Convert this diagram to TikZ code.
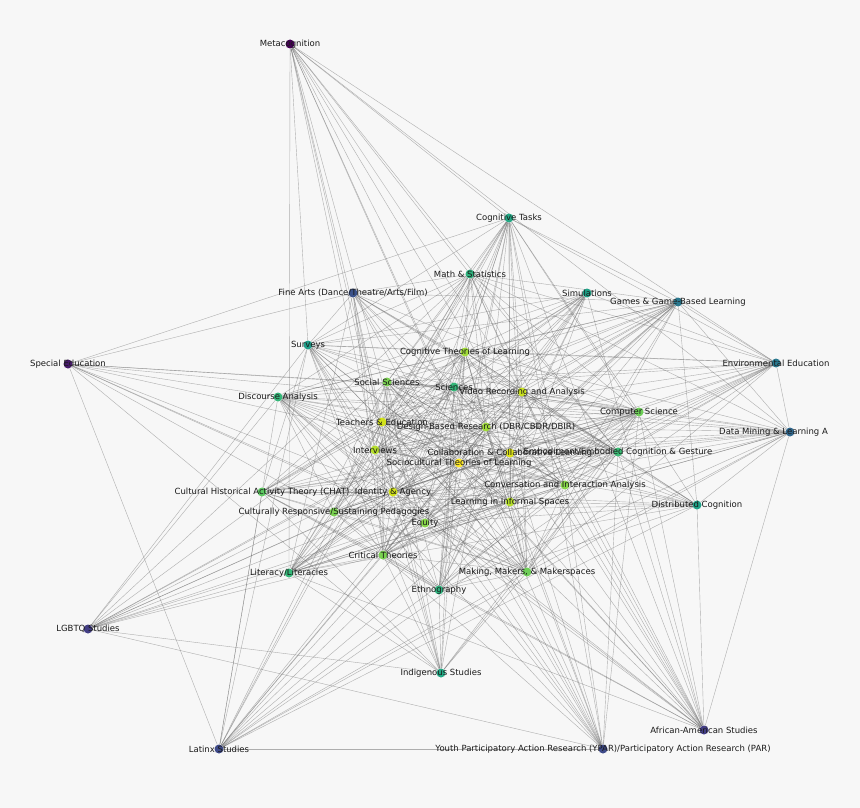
\documentclass[tikz,border=0pt]{standalone}
\usepackage{fontspec}
\setmainfont{DejaVu Sans}
\pgfdeclarelayer{bglayer}
\pgfdeclarelayer{edgelayer}
\pgfsetlayers{bglayer,edgelayer,main}
\definecolor{bgc}{HTML}{F7F7F7}
\definecolor{v00}{HTML}{440154}
\definecolor{v05}{HTML}{481A6C}
\definecolor{v12}{HTML}{433E85}
\definecolor{v15}{HTML}{3E4A89}
\definecolor{v20}{HTML}{3B528B}
\definecolor{v30}{HTML}{31688E}
\definecolor{v37}{HTML}{2A788E}
\definecolor{v55}{HTML}{1F9E89}
\definecolor{v58}{HTML}{1FA187}
\definecolor{v60}{HTML}{22A884}
\definecolor{v65}{HTML}{2DB27D}
\definecolor{v68}{HTML}{35B779}
\definecolor{v72}{HTML}{3BBB75}
\definecolor{v76}{HTML}{5EC962}
\definecolor{v79}{HTML}{6ECE58}
\definecolor{v82}{HTML}{7AD151}
\definecolor{v85}{HTML}{86D549}
\definecolor{v88}{HTML}{A0DA39}
\definecolor{v91}{HTML}{B5DE2B}
\definecolor{v93}{HTML}{C8E020}
\definecolor{v96}{HTML}{D2E21B}
\definecolor{v98}{HTML}{DDE318}
\definecolor{v100}{HTML}{FDE725}
\definecolor{txt}{HTML}{1A1A1A}
\definecolor{edgec}{HTML}{666666}
\tikzset{
  dot/.style={circle,inner sep=0pt,minimum size=9pt,fill=#1},
  lab/.style={inner sep=0pt,text=txt,font=\fontsize{8.5}{10}\selectfont},
  edge/.style={draw=edgec,line width=0.4pt,opacity=0.5}
}
\begin{document}
\begin{tikzpicture}[x=1pt,y=-1pt]
\begin{pgfonlayer}{bglayer}
\fill[bgc] (0,0) rectangle (860,808);
\end{pgfonlayer}
\useasboundingbox (0,0) rectangle (860,808);
% dots
\node[dot=v00] (n1) at (290,44) {};
\node[dot=v60] (n2) at (509,218) {};
\node[dot=v65] (n3) at (470,274) {};
\node[dot=v20] (n4) at (353,293) {};
\node[dot=v58] (n5) at (587,293) {};
\node[dot=v37] (n6) at (678,302) {};
\node[dot=v55] (n7) at (308,345) {};
\node[dot=v05] (n8) at (68,364) {};
\node[dot=v88] (n9) at (465,352) {};
\node[dot=v37] (n10) at (776,363) {};
\node[dot=v82] (n11) at (387,382) {};
\node[dot=v68] (n12) at (454,387) {};
\node[dot=v93] (n13) at (522,392) {};
\node[dot=v68] (n14) at (278,397) {};
\node[dot=v79] (n15) at (639,412) {};
\node[dot=v96] (n16) at (382,422) {};
\node[dot=v88] (n17) at (486,427) {};
\node[dot=v30] (n18) at (790,432) {};
\node[dot=v91] (n19) at (375,450) {};
\node[dot=v98] (n20) at (510,453) {};
\node[dot=v72] (n21) at (618,452) {};
\node[dot=v100] (n22) at (459,463) {};
\node[dot=v85] (n23) at (565,485) {};
\node[dot=v76] (n24) at (262,492) {};
\node[dot=v96] (n25) at (393,492) {};
\node[dot=v91] (n26) at (510,502) {};
\node[dot=v58] (n27) at (697,505) {};
\node[dot=v82] (n28) at (334,512) {};
\node[dot=v85] (n29) at (425,523) {};
\node[dot=v82] (n30) at (383,555) {};
\node[dot=v68] (n31) at (289,573) {};
\node[dot=v79] (n32) at (527,572) {};
\node[dot=v65] (n33) at (439,590) {};
\node[dot=v12] (n34) at (88,629) {};
\node[dot=v60] (n35) at (441,673) {};
\node[dot=v15] (n36) at (219,749) {};
\node[dot=v12] (n37) at (704,730) {};
\node[dot=v15] (n38) at (603,749) {};
% labels
\node[lab] (t1) at (n1) {Metacognition};
\node[lab] (t2) at (n2) {Cognitive Tasks};
\node[lab] (t3) at (n3) {Math \& Statistics};
\node[lab] (t4) at (n4) {Fine Arts (Dance/Theatre/Arts/Film)};
\node[lab] (t5) at (n5) {Simulations};
\node[lab] (t6) at (n6) {Games \& Game-Based Learning};
\node[lab] (t7) at (n7) {Surveys};
\node[lab] (t8) at (n8) {Special Education};
\node[lab] (t9) at (n9) {Cognitive Theories of Learning};
\node[lab] (t10) at (n10) {Environmental Education};
\node[lab] (t11) at (n11) {Social Sciences};
\node[lab] (t12) at (n12) {Sciences};
\node[lab] (t13) at (n13) {Video Recording and Analysis};
\node[lab] (t14) at (n14) {Discourse Analysis};
\node[lab] (t15) at (n15) {Computer Science};
\node[lab] (t16) at (n16) {Teachers \& Education};
\node[lab] (t17) at (n17) {Design-Based Research (DBR/CBDR/DBIR)};
\node[lab,anchor=west] (t18) at (719,432) {Data Mining \& Learning A};
\node[lab] (t19) at (n19) {Interviews};
\node[lab] (t20) at (n20) {Collaboration \& Collaborative Learning};
\node[lab] (t21) at (n21) {Embodiment/Embodied Cognition \& Gesture};
\node[lab] (t22) at (n22) {Sociocultural Theories of Learning};
\node[lab] (t23) at (n23) {Conversation and Interaction Analysis};
\node[lab] (t24) at (n24) {Cultural Historical Activity Theory (CHAT)};
\node[lab] (t25) at (n25) {Identity \& Agency};
\node[lab] (t26) at (n26) {Learning in Informal Spaces};
\node[lab] (t27) at (n27) {Distributed Cognition};
\node[lab] (t28) at (n28) {Culturally Responsive/Sustaining Pedagogies};
\node[lab] (t29) at (n29) {Equity};
\node[lab] (t30) at (n30) {Critical Theories};
\node[lab] (t31) at (n31) {Literacy/Literacies};
\node[lab] (t32) at (n32) {Making, Makers, \& Makerspaces};
\node[lab] (t33) at (n33) {Ethnography};
\node[lab] (t34) at (n34) {LGBTQ Studies};
\node[lab] (t35) at (n35) {Indigenous Studies};
\node[lab] (t36) at (n36) {Latinx Studies};
\node[lab] (t37) at (n37) {African-American Studies};
\node[lab] (t38) at (n38) {Youth Participatory Action Research (YPAR)/Participatory Action Research (PAR)};
% edges
\def\W{{0.55,0.75,0.8,0.6,0.75,0.7,0.72,0.55,0.95,0.68,0.88,0.8,0.97,0.8,0.87,0.98,0.95,0.65,0.96,0.99,0.8,1.0,0.9,0.86,0.98,0.95,0.74,0.87,0.9,0.88,0.8,0.86,0.8,0.6,0.75,0.6,0.58,0.6}}
\pgfmathsetseed{2718}
\begin{pgfonlayer}{edgelayer}
\foreach \i in {1,...,37}{
  \pgfmathtruncatemacro\jstart{\i+1}
  \foreach \j in {\jstart,...,38}{
    \pgfmathsetmacro\pr{\W[\i-1]*\W[\j-1]}
    \pgfmathtruncatemacro\hit{rnd<\pr ? 1 : 0}
    \ifnum\hit=1 \draw[edge] (n\i) -- (n\j);\fi
  }
}
\end{pgfonlayer}
\end{tikzpicture}
\end{document}
